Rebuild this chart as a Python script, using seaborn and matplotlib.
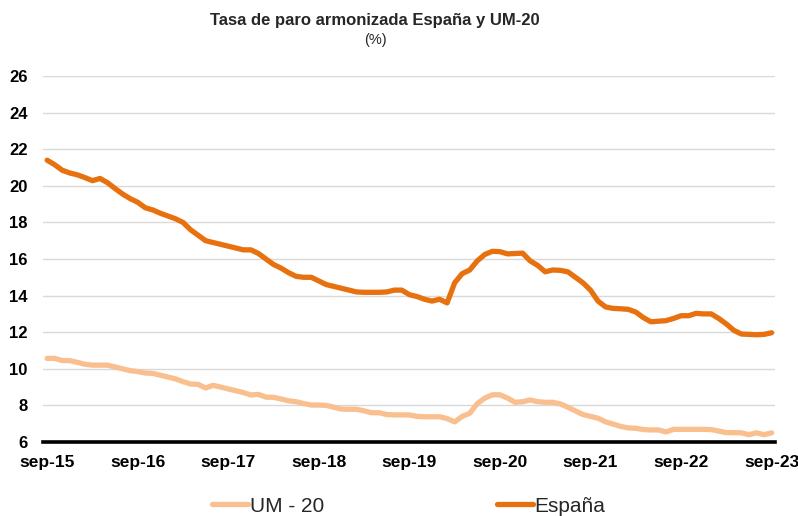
import matplotlib
matplotlib.use("Agg")
import matplotlib.pyplot as plt
import seaborn as sns
import pandas as pd
import numpy as np
from matplotlib.lines import Line2D

tick_labels = ["sep-15", "sep-16", "sep-17", "sep-18", "sep-19", "sep-20", "sep-21", "sep-22", "sep-23"]

espana = [21.4, 21.15, 20.85, 20.7, 20.6, 20.45, 20.28, 20.4, 20.17, 19.85,
          19.55, 19.3, 19.1, 18.8, 18.68, 18.5, 18.35, 18.2, 18.0, 17.6,
          17.3, 17.0, 16.9, 16.8, 16.7, 16.6, 16.5, 16.5, 16.3, 16.0,
          15.7, 15.5, 15.25, 15.05, 15.0, 15.0, 14.8, 14.6, 14.5, 14.4,
          14.3, 14.2, 14.18, 14.18, 14.18, 14.2, 14.3, 14.3, 14.05, 13.95,
          13.8, 13.7, 13.8, 13.6, 14.7, 15.2, 15.4, 15.9, 16.25, 16.42,
          16.4, 16.28, 16.3, 16.32, 15.9, 15.65, 15.3, 15.4, 15.38, 15.3,
          15.0, 14.7, 14.3, 13.7, 13.38, 13.3, 13.28, 13.25, 13.1, 12.8,
          12.57, 12.6, 12.63, 12.75, 12.9, 12.9, 13.03, 13.0, 13.0, 12.75,
          12.45, 12.1, 11.9, 11.88, 11.86, 11.88, 11.97]

um20 = [10.57, 10.57, 10.45, 10.45, 10.35, 10.25, 10.2, 10.2, 10.2, 10.1,
        10.0, 9.9, 9.85, 9.77, 9.75, 9.65, 9.55, 9.45, 9.3, 9.17,
        9.15, 8.95, 9.1, 9.0, 8.9, 8.8, 8.7, 8.57, 8.6, 8.45,
        8.44, 8.35, 8.25, 8.2, 8.1, 8.02, 8.02, 8.0, 7.9, 7.8,
        7.79, 7.79, 7.7, 7.6, 7.6, 7.5, 7.48, 7.48, 7.48, 7.4,
        7.38, 7.38, 7.38, 7.28, 7.1, 7.4, 7.57, 8.1, 8.4, 8.58,
        8.58, 8.4, 8.17, 8.2, 8.3, 8.2, 8.17, 8.17, 8.08, 7.9,
        7.7, 7.5, 7.4, 7.3, 7.1, 6.98, 6.85, 6.77, 6.75, 6.68,
        6.66, 6.66, 6.55, 6.69, 6.69, 6.69, 6.69, 6.69, 6.68, 6.6,
        6.51, 6.51, 6.5, 6.4, 6.5, 6.4, 6.5]

months = list(range(len(espana)))
df = pd.DataFrame({
    "mes": months + months,
    "valor": um20 + espana,
    "serie": ["UM - 20"] * len(um20) + ["España"] * len(espana),
})

sns.set_theme(style="white")
plt.rcParams["font.family"] = ["Liberation Sans", "DejaVu Sans"]

fig = plt.figure(figsize=(7.98, 5.16), dpi=100)
ax = fig.add_axes([43 / 798, 1 - 442 / 516, (775 - 43) / 798, (442 - 76) / 516])

palette = {"UM - 20": "#F9BF8E", "España": "#E8710F"}
sns.lineplot(data=df, x="mes", y="valor", hue="serie", palette=palette,
             linewidth=3.8, ax=ax, legend=False, solid_capstyle="round")

ax.set_xlim(-0.55, 96.45)
ax.set_ylim(6, 26)
ax.set_yticks(np.arange(6, 27, 2))
ax.set_yticklabels([str(v) for v in range(6, 27, 2)], fontsize=12, fontweight="bold")
ax.set_xticks(np.arange(0, 97, 12))
ax.set_xticklabels(tick_labels, fontsize=12.5, fontweight="bold")
ax.tick_params(axis="both", length=0, colors="black")
ax.tick_params(axis="y", pad=11)
ax.tick_params(axis="x", pad=9)
ax.set_xlabel("")
ax.set_ylabel("")
ax.grid(axis="y", color="#d9d9d9", linewidth=1)
ax.grid(axis="x", visible=False)
for s in ["top", "right", "left"]:
    ax.spines[s].set_visible(False)
ax.spines["bottom"].set_color("black")
ax.spines["bottom"].set_linewidth(2.6)
ax.spines["bottom"].set_zorder(5)

fig.text(375 / 798, 1 - 20 / 516, "Tasa de paro armonizada España y UM-20",
         ha="center", va="center", fontsize=12, fontweight="bold")
fig.text(375 / 798, 1 - 40 / 516, "(%)", ha="center", va="center", fontsize=10.5)

handles = [Line2D([0], [0], color=palette["UM - 20"], linewidth=3.8, solid_capstyle="round"),
           Line2D([0], [0], color=palette["España"], linewidth=3.8, solid_capstyle="round")]
fig.legend(handles, ["UM - 20", "España"], loc="center", bbox_to_anchor=(409 / 798, 1 - 506 / 516),
           ncol=2, frameon=False, fontsize=15, handlelength=1.7, handletextpad=0.1,
           columnspacing=8.3)

fig.savefig("out.png", dpi=100)
